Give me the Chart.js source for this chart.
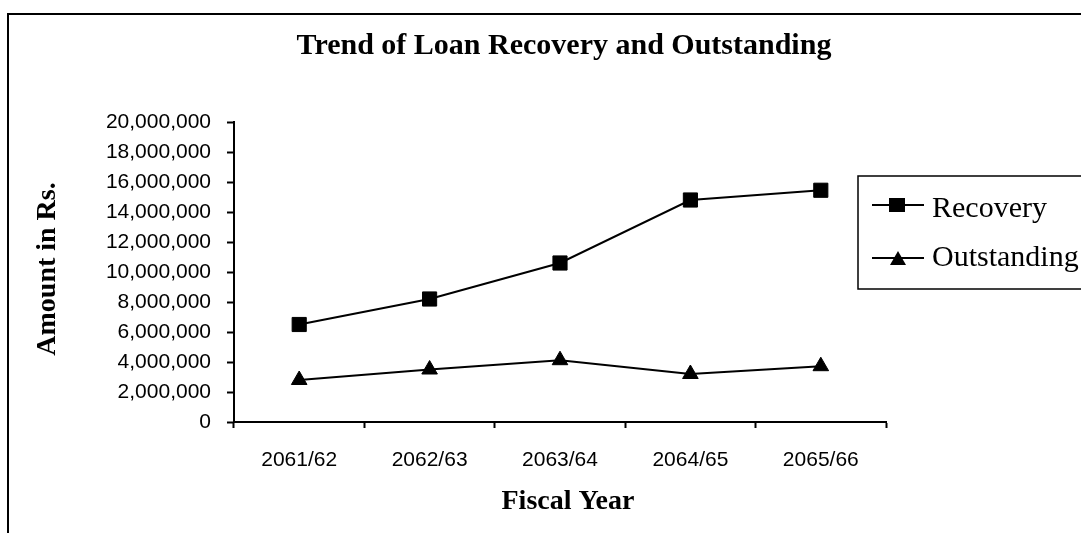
<!DOCTYPE html>
<html>
<head>
<meta charset="utf-8">
<script src="https://cdn.jsdelivr.net/npm/chart.js@4/dist/chart.umd.min.js"></script>
<style>
    body { margin: 0; background: #fff; }
    canvas { display: block; }
</style>
</head>
<body>
<canvas id="loanChart" width="1081" height="533"></canvas>
<script>
const fiscalYears = ['2061/62', '2062/63', '2063/64', '2064/65', '2065/66'];
const recovery = [6500000, 8200000, 10600000, 14800000, 15450000];
const outstanding = [2800000, 3500000, 4120000, 3200000, 3720000];
const yMin = 0;
const yMax = 20000000;
const yStep = 2000000;
const seriesNames = ['Recovery', 'Outstanding'];
const chartTitle = 'Trend of Loan Recovery and Outstanding';
const xTitle = 'Fiscal Year';
const yTitle = 'Amount in Rs.';

const serif = '"Liberation Serif", "Times New Roman", serif';
const sans = '"Liberation Sans", Arial, sans-serif';

// frame, titles and the boxed legend are drawn by hand, like the Excel original
const decorations = {
    id: 'decorations',
    beforeDraw(chart) {
        const ctx = chart.ctx;
        ctx.save();
        ctx.fillStyle = '#fff';
        ctx.fillRect(0, 0, chart.width, chart.height);
        ctx.strokeStyle = '#000';
        ctx.lineWidth = 2;
        ctx.strokeRect(8, 14, chart.width + 50, chart.height + 50);
        ctx.restore();
    },
    afterDraw(chart) {
        const ctx = chart.ctx;
        ctx.save();
        ctx.fillStyle = '#000';
        ctx.textAlign = 'center';
        ctx.textBaseline = 'alphabetic';

        ctx.font = 'bold 30px ' + serif;
        ctx.fillText(chartTitle, 564, 54);

        ctx.font = 'bold 28px ' + serif;
        ctx.fillText(xTitle, 568, 509);

        ctx.translate(55, 269);
        ctx.rotate(-Math.PI / 2);
        ctx.fillText(yTitle, 0, 0);
        ctx.restore();

        // legend box
        ctx.save();
        ctx.strokeStyle = '#000';
        ctx.lineWidth = 1.5;
        ctx.strokeRect(858, 176, 300, 113);

        const rows = [205, 258];
        const baselines = [217, 266];
        chart.data.datasets.forEach((ds, i) => {
            const y = rows[i];
            ctx.strokeStyle = ds.borderColor;
            ctx.lineWidth = 2;
            ctx.beginPath();
            ctx.moveTo(872, y);
            ctx.lineTo(924, y);
            ctx.stroke();
            ctx.fillStyle = ds.pointBackgroundColor;
            ctx.beginPath();
            if (ds.pointStyle === 'rect') {
                ctx.rect(897 - 8, y - 7, 16, 14);
            } else {
                ctx.moveTo(898, y - 7);
                ctx.lineTo(898 + 8, y + 7);
                ctx.lineTo(898 - 8, y + 7);
                ctx.closePath();
            }
            ctx.fill();
            ctx.fillStyle = '#000';
            ctx.font = '30px ' + serif;
            ctx.textAlign = 'left';
            ctx.textBaseline = 'alphabetic';
            ctx.fillText(ds.label, 932, baselines[i]);
        });
        ctx.restore();
    }
};

const ctx = document.getElementById('loanChart').getContext('2d');
new Chart(ctx, {
    type: 'line',
    data: {
        labels: fiscalYears,
        datasets: [
            {
                label: seriesNames[0],
                data: recovery,
                borderColor: '#000',
                backgroundColor: '#000',
                pointBackgroundColor: '#000',
                pointBorderColor: '#000',
                borderWidth: 2,
                pointStyle: 'rect',
                pointRadius: 10,
                pointBorderWidth: 1,
                tension: 0
            },
            {
                label: seriesNames[1],
                data: outstanding,
                borderColor: '#000',
                backgroundColor: '#000',
                pointBackgroundColor: '#000',
                pointBorderColor: '#000',
                borderWidth: 2,
                pointStyle: 'triangle',
                pointRadius: 9,
                pointBorderWidth: 1,
                tension: 0
            }
        ]
    },
    options: {
        responsive: false,
        animation: false,
        layout: {
            padding: { left: 0, top: 122, right: 195, bottom: 0 }
        },
        scales: {
            x: {
                offset: true,
                grid: {
                    offset: true,
                    drawOnChartArea: false,
                    drawTicks: true,
                    tickLength: 6,
                    tickColor: '#000',
                    tickWidth: 2
                },
                border: { color: '#000', width: 2 },
                ticks: {
                    color: '#000',
                    font: { family: sans, size: 21 },
                    padding: 20,
                    maxRotation: 0,
                    autoSkip: false
                },
                afterFit: function (scale) {
                    scale.height = 111;
                }
            },
            y: {
                min: yMin,
                max: yMax,
                grid: {
                    drawOnChartArea: false,
                    drawTicks: true,
                    tickLength: 7,
                    tickColor: '#000',
                    tickWidth: 2
                },
                border: { color: '#000', width: 2 },
                ticks: {
                    stepSize: yStep,
                    autoSkip: false,
                    color: '#000',
                    font: { family: sans, size: 21 },
                    padding: 16,
                    callback: value => value.toLocaleString('en-US')
                },
                afterFit: function (scale) {
                    scale.width = 234;
                }
            }
        },
        plugins: {
            legend: { display: false },
            title: { display: false },
            tooltip: { enabled: false }
        }
    },
    plugins: [decorations]
});
</script>
</body>
</html>
